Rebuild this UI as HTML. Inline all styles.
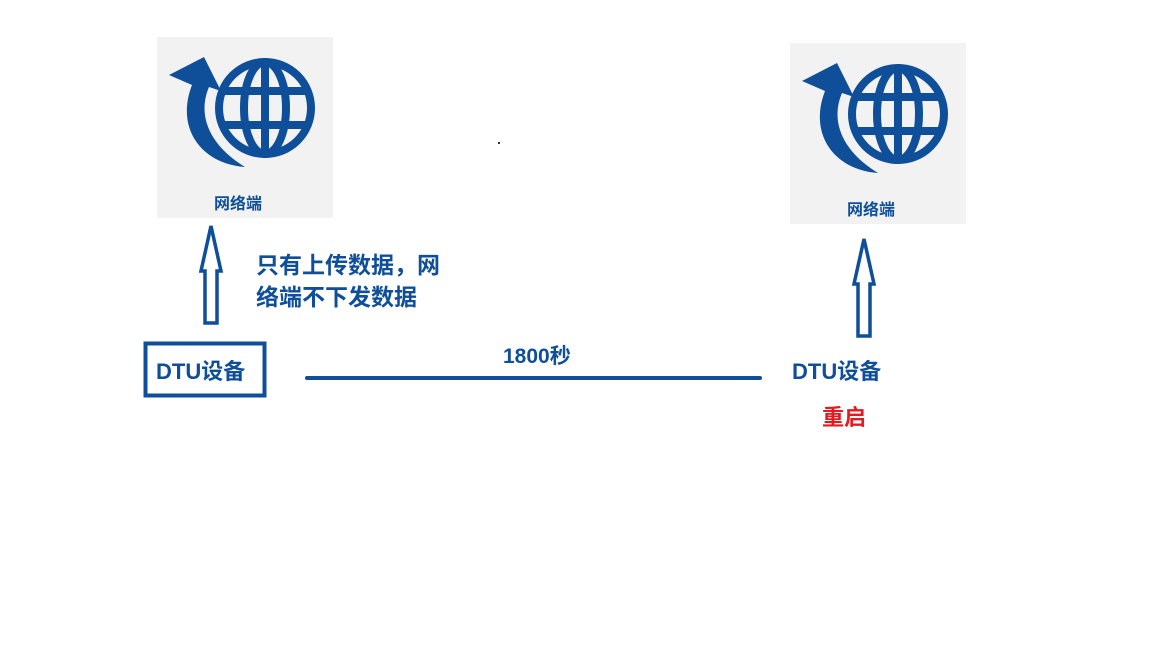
<!DOCTYPE html>
<html><head><meta charset="utf-8"><style>
body{margin:0;width:1152px;height:648px;background:#fff;overflow:hidden;font-family:"Liberation Sans","Noto Sans CJK SC",sans-serif}
.t{position:absolute;color:#0f4f99;white-space:nowrap;font-weight:bold}
</style></head><body>
<svg width="1152" height="648" style="position:absolute;left:0;top:0">
<defs>
<g id="globe">
<rect x="0" y="0" width="176" height="181" fill="#f2f2f2"/>
<g fill="none" stroke="#0f4f99" stroke-width="8">
<circle cx="108" cy="71" r="46"/>
<ellipse cx="108" cy="71" rx="21" ry="46"/>
<line x1="108" y1="25" x2="108" y2="117"/>
<line x1="64" y1="54" x2="152" y2="54"/>
<line x1="64" y1="88" x2="152" y2="88"/>
</g>
<path d="M12,38 L47,20 L64,54 L52,50 C40,78 52,108 88,130 C45,127 18,92 35,48 Z" fill="#0f4f99"/>
</g>
<g id="arr">
<path d="M0,0 L-10,45 L-6,45 L-6,97 L6,97 L6,45 L10,45 Z" fill="#fff" stroke="#0f4f99" stroke-width="3.5" stroke-linejoin="miter"/>
</g>
</defs>
<use href="#globe" x="157" y="37"/>
<use href="#globe" x="790" y="43"/>
<use href="#arr" x="211" y="226"/>
<use href="#arr" x="864" y="239"/>
<rect x="145.5" y="343.5" width="119" height="52" fill="none" stroke="#0f4f99" stroke-width="4"/>
<line x1="307" y1="378" x2="760" y2="378" stroke="#0f4f99" stroke-width="4" stroke-linecap="round"/>
<rect x="498" y="142" width="2" height="2" fill="#333"/>
</svg>
<div class="t" style="left:214px;top:190px;font-size:16px">网络端</div>
<div class="t" style="left:847px;top:196px;font-size:16px">网络端</div>
<div class="t" style="left:256px;top:249px;font-size:23px;line-height:32px">只有上传数据，网<br>络端不下发数据</div>
<div class="t" style="left:156px;top:354px;font-size:22px">DTU设备</div>
<div class="t" style="left:503px;top:340px;font-size:21px">1800秒</div>
<div class="t" style="left:792px;top:354px;font-size:22px">DTU设备</div>
<div class="t" style="left:822px;top:400px;font-size:22px;color:#e8191e">重启</div>
</body></html>
